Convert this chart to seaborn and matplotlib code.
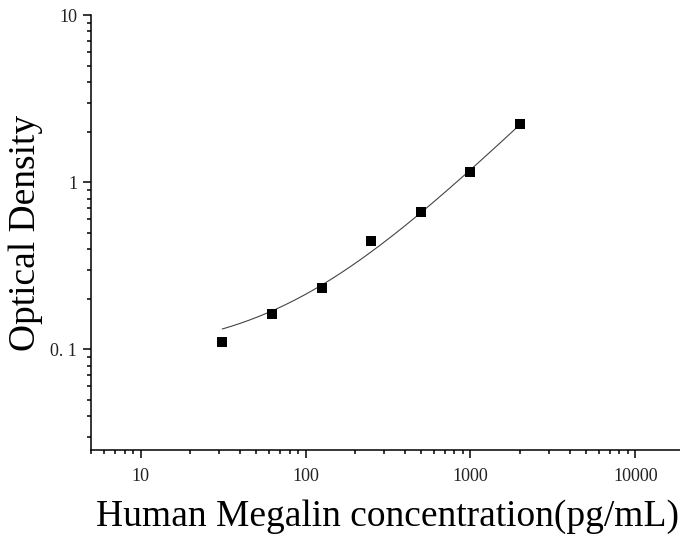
import numpy as np
import pandas as pd
import matplotlib
matplotlib.use("Agg")
import matplotlib.pyplot as plt
import matplotlib.ticker as mticker
import seaborn as sns

# standard curve readings
conc = [31.25, 62.5, 125, 250, 500, 1000, 2000]
od = [0.111, 0.162, 0.232, 0.443, 0.665, 1.152, 2.231]

x_ticks = [10, 100, 1000, 10000]
y_ticks = [0.1, 1, 10]
y_tick_labels = ["0. 1", "1", "10"]

sns.set_style("ticks")
plt.rcParams["font.family"] = ["Liberation Serif", "DejaVu Serif"]

df = pd.DataFrame({"conc": conc, "od": od})

# four-parameter logistic fit: grid over b, c, least squares for a, d
X = np.array(conc)
Y = np.array(od)
best = None
for b in np.linspace(0.3, 3.0, 120):
    for lc in np.linspace(1.5, 6.0, 200):
        g = 1.0 / (1.0 + (X / 10 ** lc) ** b)
        A = np.column_stack([g, 1 - g])
        sol, *_ = np.linalg.lstsq(A, Y, rcond=None)
        err = np.sum((A @ sol - Y) ** 2)
        if best is None or err < best[0]:
            best = (err, b, lc, sol)
_, b, lc, (a, d) = best
xf = np.logspace(np.log10(min(conc)), np.log10(max(conc)), 200)
gf = 1.0 / (1.0 + (xf / 10 ** lc) ** b)
fit = pd.DataFrame({"conc": xf, "od": a * gf + d * (1 - gf)})

fig = plt.figure(figsize=(6.8, 5.34), dpi=100)
ax = fig.add_axes([91 / 680, 1 - 450 / 534, (685 - 91) / 680, (450 - 15.3) / 534])

sns.lineplot(data=fit, x="conc", y="od", color="#444444", linewidth=0.8, ax=ax)
sns.scatterplot(data=df, x="conc", y="od", marker="s", s=60, color="black",
                edgecolor="black", linewidth=0, ax=ax, zorder=3)

ax.set_xscale("log")
ax.set_yscale("log")
ax.set_xlim(5, 20000)
ax.set_ylim(0.025, 10)

ax.set_xticks(x_ticks)
ax.xaxis.set_major_formatter(mticker.FuncFormatter(lambda v, p: f"{v:g}"))
ax.set_yticks(y_ticks)
ax.set_yticklabels(y_tick_labels)
ax.xaxis.set_minor_locator(mticker.LogLocator(base=10, subs=np.arange(2, 10)))
ax.yaxis.set_minor_locator(mticker.LogLocator(base=10, subs=np.arange(2, 10)))
ax.xaxis.set_minor_formatter(mticker.NullFormatter())
ax.yaxis.set_minor_formatter(mticker.NullFormatter())

ax.tick_params(which="major", direction="out", length=6, width=1.1,
               labelsize=13, color="black", labelcolor="#222222")
ax.tick_params(which="minor", direction="out", length=3, width=1.1, color="black")
ax.tick_params(axis="x", which="major", pad=7)
ax.tick_params(axis="y", which="major", pad=4)

sns.despine(ax=ax)
for s in ["left", "bottom"]:
    ax.spines[s].set_linewidth(1.1)
    ax.spines[s].set_color("black")

ax.set_xlabel("Human Megalin concentration(pg/mL)", fontsize=27, labelpad=10.5,
              color="black")
ax.set_ylabel("Optical Density", fontsize=27, labelpad=5, color="black")

fig.savefig("out.png", dpi=100)
